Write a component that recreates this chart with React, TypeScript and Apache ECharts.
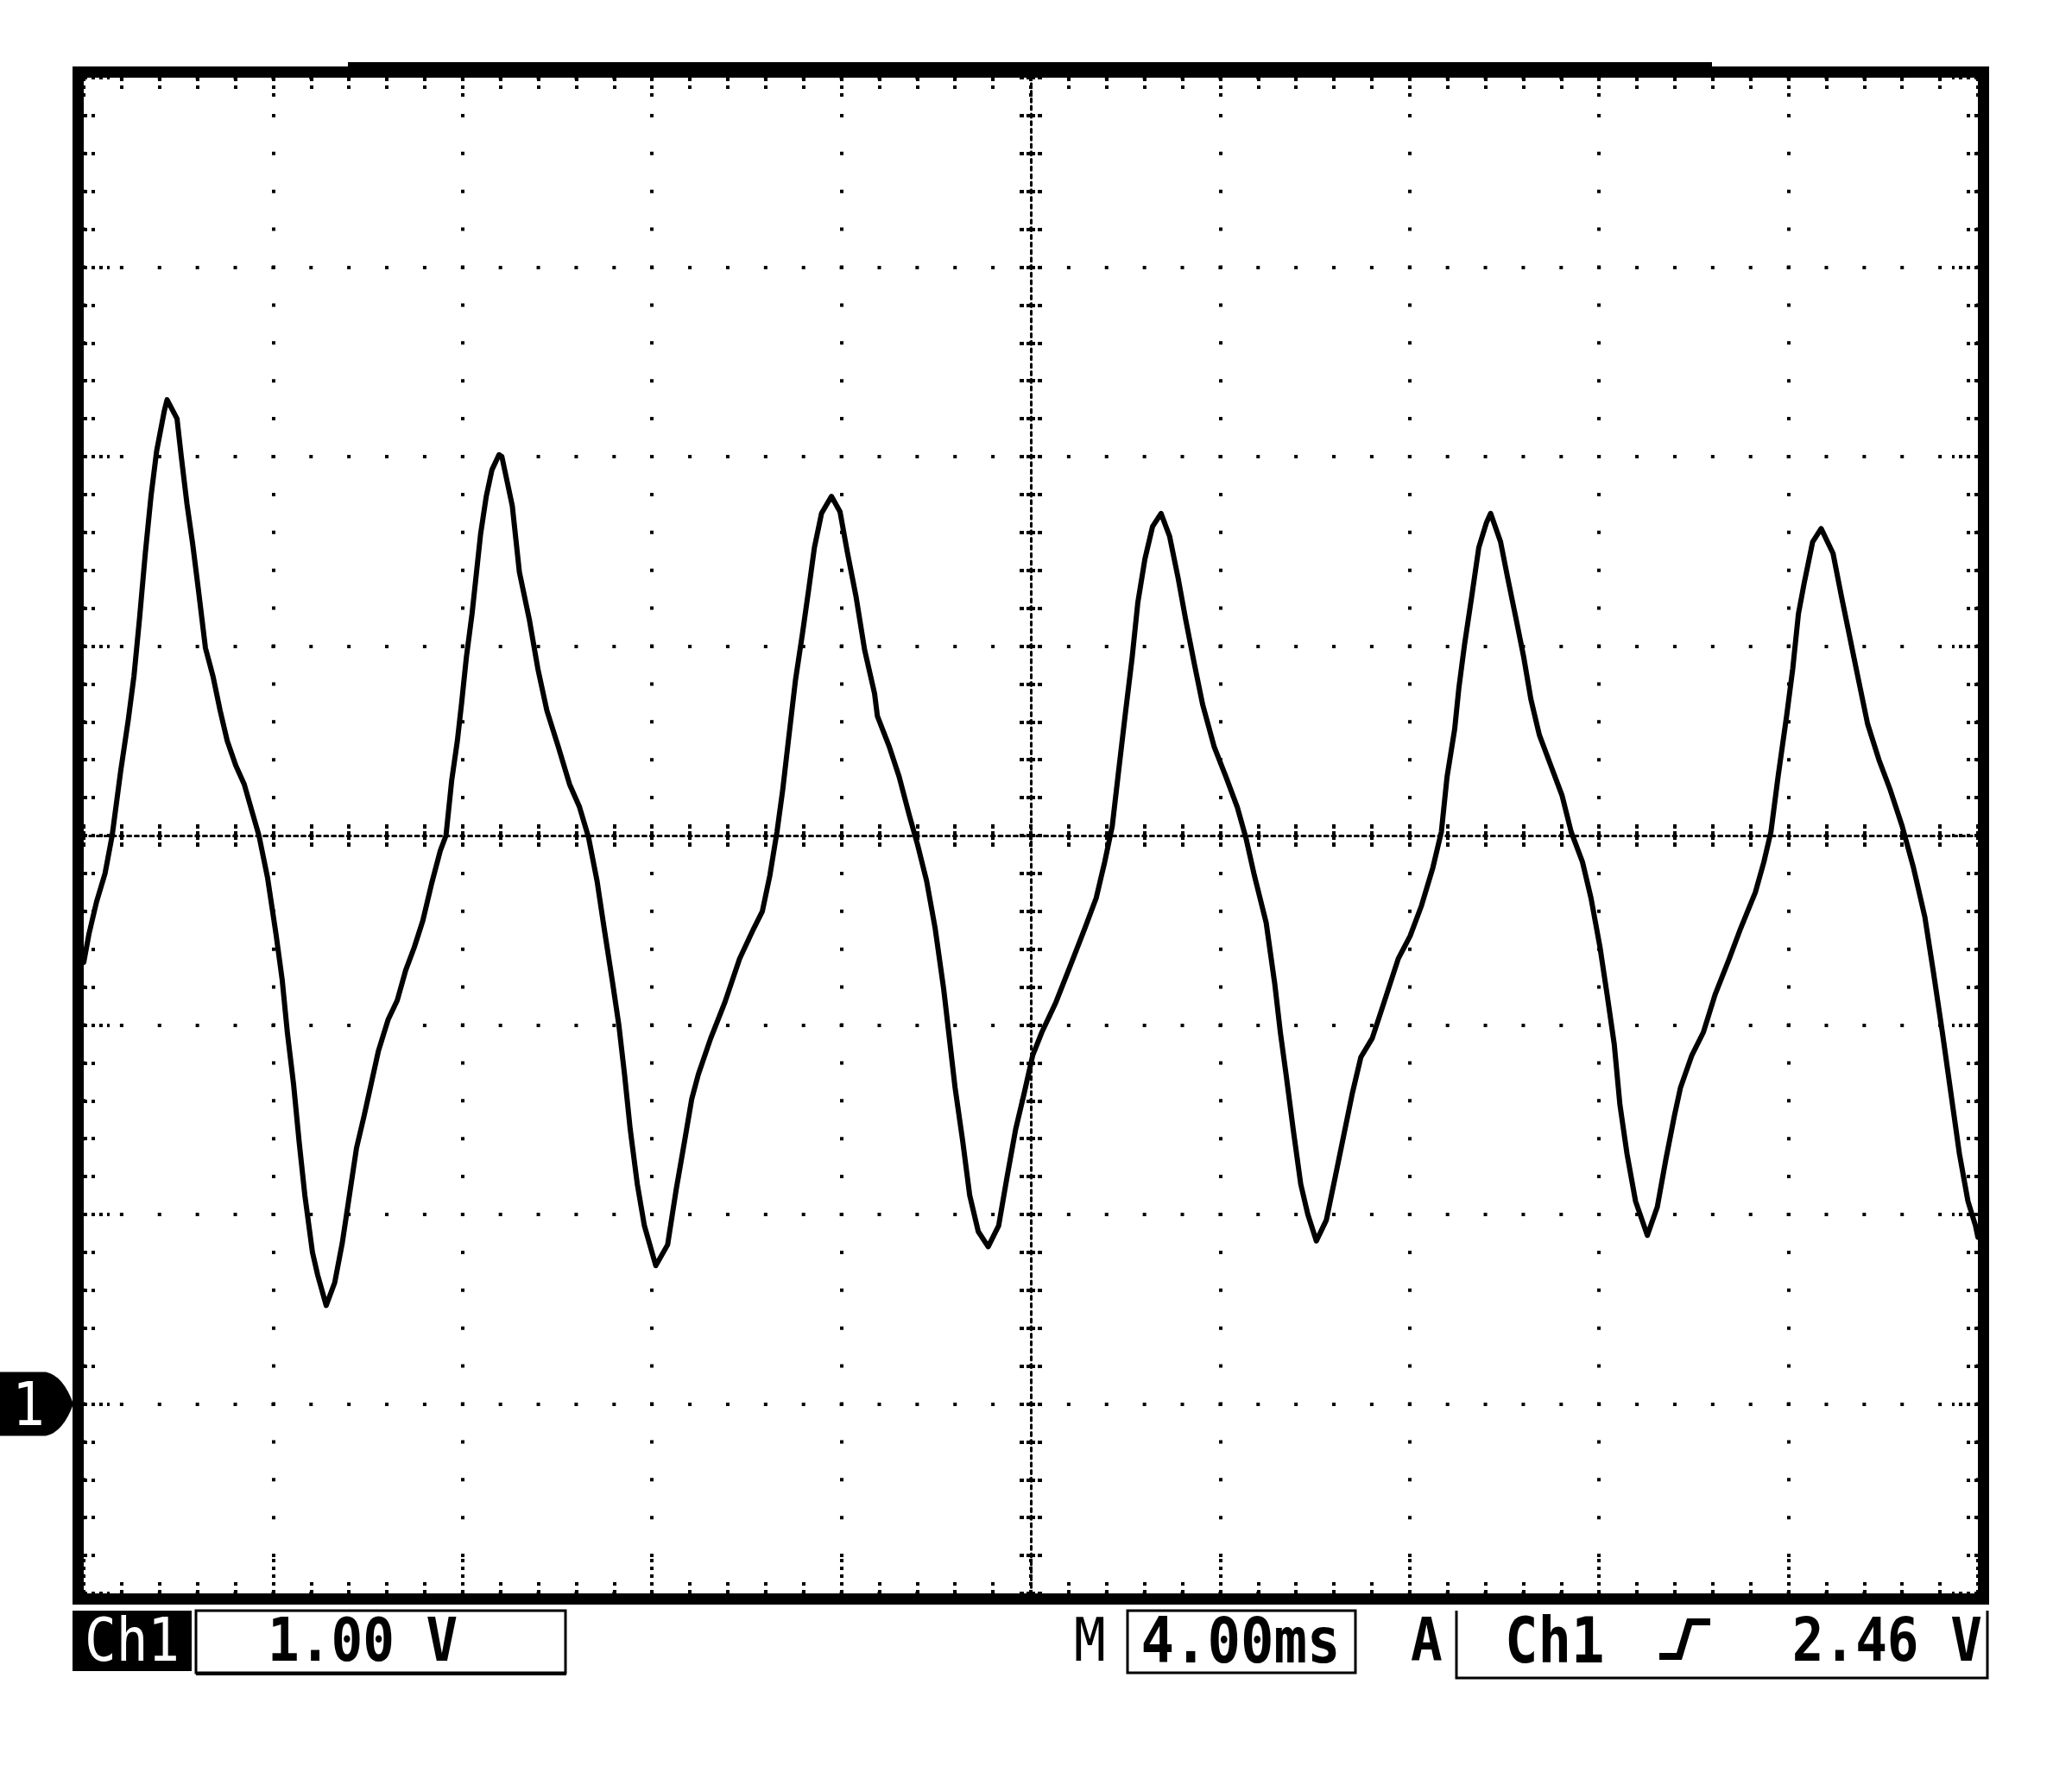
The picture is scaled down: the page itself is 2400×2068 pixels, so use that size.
import React, { useEffect, useRef } from "react";
import * as echarts from "echarts";

// ---- scope settings ----
const TIME_MIN_MS = 0;
const TIME_MAX_MS = 40;
const TIME_DIV_MS = 4;
const VOLT_MIN = -1;
const VOLT_MAX = 7;
const VOLT_DIV = 1;
const GROUND_VOLT = 0;

// ---- texts ----
const channelLabel = "Ch1";
const voltsPerDivLabel = "1.00 V";
const timebasePrefix = "M";
const timebaseLabel = "4.00ms";
const triggerPrefix = "A";
const triggerSource = "Ch1";
const triggerLevelLabel = "2.46 V";
const groundMarkerLabel = "1";

// ---- trace, [time ms, volts] ----
const cycle1: [number, number][] = [
  [0, 2.33], [0.11, 2.48], [0.27, 2.65], [0.45, 2.8], [0.6, 3.0], [0.78, 3.34], [0.94, 3.61],
  [1.06, 3.84], [1.18, 4.15], [1.3, 4.49], [1.42, 4.79], [1.54, 5.03], [1.7, 5.24], [1.76, 5.3],
  [1.97, 5.2], [2.06, 5.0], [2.18, 4.75], [2.3, 4.54], [2.42, 4.3], [2.57, 3.99], [2.73, 3.84],
  [2.88, 3.66], [3.03, 3.5], [3.21, 3.37], [3.39, 3.27], [3.55, 3.13], [3.7, 3.0], [3.88, 2.78],
  [4.06, 2.48], [4.19, 2.24], [4.3, 1.96], [4.43, 1.69], [4.55, 1.38], [4.67, 1.1], [4.83, 0.8],
  [4.94, 0.68], [5.12, 0.52], [5.3, 0.64], [5.46, 0.85], [5.61, 1.1], [5.76, 1.35], [5.92, 1.52],
  [6.07, 1.69], [6.22, 1.86], [6.43, 2.03], [6.62, 2.13], [6.8, 2.29], [6.98, 2.41], [7.16, 2.55],
  [7.35, 2.75], [7.53, 2.92], [7.65, 3.0], [7.77, 3.29], [7.89, 3.5], [7.98, 3.7], [8.08, 3.94],
  [8.2, 4.17], [8.29, 4.38], [8.38, 4.59], [8.5, 4.79], [8.62, 4.93], [8.77, 5.01],
];
const cycle2: [number, number][] = [
  [8.83, 5.0], [9.05, 4.74], [9.2, 4.39], [9.41, 4.14], [9.59, 3.88], [9.78, 3.66], [10.02, 3.47],
  [10.26, 3.27], [10.47, 3.15], [10.66, 2.99], [10.84, 2.76], [10.99, 2.51], [11.17, 2.22],
  [11.3, 2.0], [11.42, 1.74], [11.54, 1.45], [11.69, 1.16], [11.84, 0.94], [12.08, 0.73],
  [12.33, 0.84], [12.51, 1.13], [12.69, 1.39], [12.84, 1.61], [12.98, 1.74], [13.24, 1.93],
  [13.54, 2.12], [13.85, 2.35], [14.15, 2.51], [14.33, 2.6], [14.49, 2.79], [14.64, 3.02],
  [14.76, 3.24], [14.88, 3.5], [15.03, 3.82], [15.18, 4.07], [15.31, 4.3], [15.43, 4.52],
  [15.58, 4.7], [15.79, 4.79], [15.97, 4.71], [16.13, 4.49], [16.31, 4.26], [16.49, 3.98],
  [16.7, 3.75],
];
const cycle3: [number, number][] = [
  [16.76, 3.63], [17.01, 3.47], [17.22, 3.31], [17.43, 3.11], [17.61, 2.95], [17.8, 2.76],
  [17.98, 2.51], [18.16, 2.19], [18.28, 1.93], [18.4, 1.67], [18.56, 1.39], [18.71, 1.1],
  [18.89, 0.91], [19.1, 0.83], [19.32, 0.94], [19.5, 1.2], [19.68, 1.45], [19.86, 1.64],
  [20.04, 1.84], [20.23, 1.96], [20.53, 2.12], [20.83, 2.31], [21.14, 2.51], [21.38, 2.67],
  [21.56, 2.86], [21.72, 3.05], [21.84, 3.31], [21.99, 3.63], [22.14, 3.94], [22.26, 4.23],
  [22.41, 4.46], [22.57, 4.63], [22.75, 4.7], [22.93, 4.58], [23.11, 4.36], [23.27, 4.14],
  [23.45, 3.91], [23.63, 3.69], [23.87, 3.47], [24.12, 3.31], [24.36, 3.15], [24.54, 2.99],
];
const cycle4: [number, number][] = [
  [24.72, 2.79], [24.97, 2.54], [25.15, 2.22], [25.27, 1.96], [25.39, 1.74], [25.54, 1.45],
  [25.7, 1.16], [25.85, 1.0], [26.03, 0.86], [26.24, 0.97], [26.43, 1.2], [26.61, 1.42],
  [26.79, 1.64], [26.97, 1.83], [27.21, 1.93], [27.46, 2.12], [27.76, 2.35], [28.01, 2.47],
  [28.25, 2.63], [28.49, 2.83], [28.67, 3.02], [28.79, 3.31], [28.95, 3.56], [29.04, 3.78],
  [29.16, 4.01], [29.31, 4.26], [29.46, 4.52], [29.62, 4.65], [29.71, 4.7], [29.92, 4.55],
  [30.07, 4.36], [30.25, 4.14], [30.41, 3.94], [30.56, 3.72], [30.74, 3.53], [30.98, 3.37],
  [31.22, 3.21], [31.41, 3.02], [31.65, 2.86], [31.83, 2.67], [32.02, 2.41], [32.17, 2.16],
  [32.32, 1.9],
];
const cycle5: [number, number][] = [
  [32.44, 1.58], [32.59, 1.32], [32.77, 1.07], [33.02, 0.89], [33.23, 1.04], [33.41, 1.29],
  [33.59, 1.52], [33.72, 1.67], [33.96, 1.84], [34.2, 1.96], [34.45, 2.16], [34.75, 2.35],
  [34.99, 2.51], [35.3, 2.7], [35.48, 2.86], [35.63, 3.02], [35.78, 3.31], [35.96, 3.63],
  [36.09, 3.88], [36.21, 4.17], [36.33, 4.33], [36.51, 4.55], [36.69, 4.62], [36.94, 4.49],
  [37.12, 4.26], [37.3, 4.04], [37.48, 3.82], [37.67, 3.59], [37.91, 3.4], [38.15, 3.24],
  [38.4, 3.05], [38.64, 2.83], [38.88, 2.57], [39.06, 2.28], [39.25, 1.96], [39.43, 1.64],
  [39.61, 1.32], [39.79, 1.07], [39.95, 0.94], [40, 0.88],
];

const trace = [...cycle1, ...cycle2, ...cycle3, ...cycle4, ...cycle5];

// ---- layout ----
const GRID = { left: 97, top: 90, width: 2194, height: 1756 };
const FONT = "'DejaVu Sans Mono', 'Liberation Mono', monospace";

const dotX = GRID.width / 50; // one dot per fifth of a division
const dotY = GRID.height / 40;

function xAxisDef(extra: any) {
  return {
    type: "value",
    min: TIME_MIN_MS,
    max: TIME_MAX_MS,
    interval: TIME_DIV_MS,
    axisLabel: { show: false },
    axisLine: { show: false, onZero: false },
    splitLine: { show: false },
    ...extra,
  };
}
function yAxisDef(extra: any) {
  return {
    type: "value",
    min: VOLT_MIN,
    max: VOLT_MAX,
    interval: VOLT_DIV,
    axisLabel: { show: false },
    axisLine: { show: false, onZero: false },
    splitLine: { show: false },
    ...extra,
  };
}

const frameTick = (len: number) => ({
  show: true,
  inside: true,
  length: len,
  lineStyle: { color: "#000", width: 4, type: [4, 5] },
});
const frameMinor = {
  show: true,
  splitNumber: 5,
  length: 13,
  lineStyle: { color: "#000", width: 4, type: [4, 5] },
};
const centerTick = (inside: boolean) => ({
  show: true,
  inside,
  length: 16,
  lineStyle: { color: "#000", width: 4, type: [5, 3] },
});
const centerMinor = {
  show: true,
  splitNumber: 5,
  length: 15,
  lineStyle: { color: "#000", width: 4, type: [5, 3] },
};

export default function App() {
  const ref = useRef<HTMLDivElement>(null);

  useEffect(() => {
    if (!ref.current) return;
    const chart = echarts.init(ref.current, null, { renderer: "svg" });

    chart.setOption({
      animation: false,
      backgroundColor: "#fff",
      grid: { left: GRID.left, top: GRID.top, width: GRID.width, height: GRID.height, show: false },
      xAxis: [
        xAxisDef({
          position: "bottom",
          axisTick: frameTick(44),
          minorTick: frameMinor,
          splitLine: {
            show: true,
            lineStyle: { color: "#000", width: 4, type: [4, dotY - 4], dashOffset: 2 },
          },
        }),
        xAxisDef({ position: "top", axisTick: frameTick(26), minorTick: frameMinor }),
        xAxisDef({
          position: "bottom",
          offset: -GRID.height / 2,
          axisLine: {
            show: true,
            onZero: false,
            lineStyle: { color: "#000", width: 3, type: [4, dotX / 5 - 4], dashOffset: 2 },
          },
          axisTick: centerTick(true),
          minorTick: centerMinor,
        }),
        xAxisDef({
          position: "bottom",
          offset: -GRID.height / 2,
          axisTick: centerTick(false),
          minorTick: centerMinor,
        }),
      ],
      yAxis: [
        yAxisDef({
          position: "left",
          axisTick: frameTick(30),
          minorTick: frameMinor,
          splitLine: {
            show: true,
            lineStyle: { color: "#000", width: 4, type: [4, dotX - 4], dashOffset: 2 },
          },
        }),
        yAxisDef({ position: "right", axisTick: frameTick(30), minorTick: frameMinor }),
        yAxisDef({
          position: "left",
          offset: -GRID.width / 2,
          axisLine: {
            show: true,
            onZero: false,
            lineStyle: { color: "#000", width: 3, type: [4, dotY / 5 - 4], dashOffset: 2 },
          },
          axisTick: centerTick(true),
          minorTick: centerMinor,
        }),
        yAxisDef({
          position: "left",
          offset: -GRID.width / 2,
          axisTick: centerTick(false),
          minorTick: centerMinor,
        }),
      ],
      series: [
        {
          type: "line",
          xAxisIndex: 0,
          yAxisIndex: 0,
          data: trace,
          showSymbol: false,
          smooth: false,
          z: 10,
          lineStyle: { color: "#000", width: 6, join: "round", cap: "round" },
        },
      ],
    });

    const groundY = chart.convertToPixel({ yAxisIndex: 0 }, GROUND_VOLT) as number;

    try {
      echarts.graphic.registerShape(
        "gndMarker",
        echarts.graphic.extendPath("M-90,-37 L-32,-37 Q-12,-33 0,0 Q-12,33 -32,37 L-90,37 Z", {})
      );
    } catch (e) {
      /* already registered */
    }

    const textStyle = (text: string, extra: any = {}) => ({
      text,
      fill: "#000",
      fontFamily: FONT,
      fontSize: 61,
      fontWeight: "bold",
      verticalAlign: "middle",
      align: "left",
      ...extra,
    });
    const tall = { scaleY: 1.15 };

    const barY = 1900;
    const frameLeft = GRID.left - 6.5;
    const frameTop = GRID.top - 6.5;

    chart.setOption({
      graphic: [
        // frame
        {
          type: "rect",
          z: 50,
          shape: { x: frameLeft, y: frameTop, width: GRID.width + 13, height: GRID.height + 13 },
          style: { fill: "none", stroke: "#000", lineWidth: 13 },
        },
        {
          type: "rect",
          z: 50,
          shape: { x: 403, y: 72, width: 1580, height: 6 },
          style: { fill: "#000" },
        },
        // ground marker
        {
          type: "gndMarker",
          z: 50,
          x: GRID.left - 12,
          y: groundY,
          style: { fill: "#000" },
        },
        {
          type: "text",
          z: 51,
          x: 34,
          y: groundY,
          ...tall,
          style: textStyle(groundMarkerLabel, {
            fill: "#fff",
            fontWeight: "normal",
            fontFamily: "'DejaVu Sans', sans-serif",
            fontSize: 60,
            align: "center",
          }),
        },
        // Ch1 label
        {
          type: "rect",
          z: 50,
          shape: { x: 84, y: 1866, width: 138, height: 70 },
          style: { fill: "#000" },
        },
        {
          type: "text",
          z: 51,
          x: 153,
          y: barY,
          ...tall,
          style: textStyle(channelLabel, { fill: "#fff", fontWeight: "normal", align: "center" }),
        },
        // volts/div box
        {
          type: "rect",
          z: 50,
          shape: { x: 227, y: 1866, width: 428, height: 72 },
          style: { fill: "none", stroke: "#000", lineWidth: 3 },
        },
        {
          type: "line",
          z: 50,
          shape: { x1: 227, y1: 1939, x2: 656, y2: 1939 },
          style: { stroke: "#000", lineWidth: 4 },
        },
        { type: "text", z: 51, x: 310, y: barY, ...tall, style: textStyle(voltsPerDivLabel) },
        // timebase
        {
          type: "text",
          z: 51,
          x: 1244,
          y: barY,
          ...tall,
          style: textStyle(timebasePrefix, { fontWeight: "normal" }),
        },
        {
          type: "rect",
          z: 50,
          shape: { x: 1306, y: 1866, width: 264, height: 72 },
          style: { fill: "none", stroke: "#000", lineWidth: 3 },
        },
        {
          type: "text",
          z: 51,
          x: 1437,
          y: barY,
          ...tall,
          style: textStyle(timebaseLabel, { align: "center", fontSize: 64 }),
        },
        // trigger
        { type: "text", z: 51, x: 1634, y: barY, ...tall, style: textStyle(triggerPrefix) },
        {
          type: "polyline",
          z: 50,
          shape: { points: [[1687, 1866], [1687, 1944], [2302, 1944], [2302, 1866]] },
          style: { fill: "none", stroke: "#000", lineWidth: 3 },
        },
        { type: "text", z: 51, x: 1743, y: barY, ...tall, style: textStyle(triggerSource, { fontSize: 64 }) },
        {
          type: "polyline",
          z: 51,
          shape: { points: [[1922, 1919], [1945, 1919], [1957, 1879], [1981, 1879]] },
          style: { fill: "none", stroke: "#000", lineWidth: 8 },
        },
        {
          type: "text",
          z: 51,
          x: 2296,
          y: barY,
          ...tall,
          style: textStyle(triggerLevelLabel, { align: "right" }),
        },
      ],
    });

    return () => chart.dispose();
  }, []);

  return (
    <div
      ref={ref}
      style={{ position: "absolute", left: 0, top: 0, width: 2400, height: 2068, background: "#fff" }}
    />
  );
}
